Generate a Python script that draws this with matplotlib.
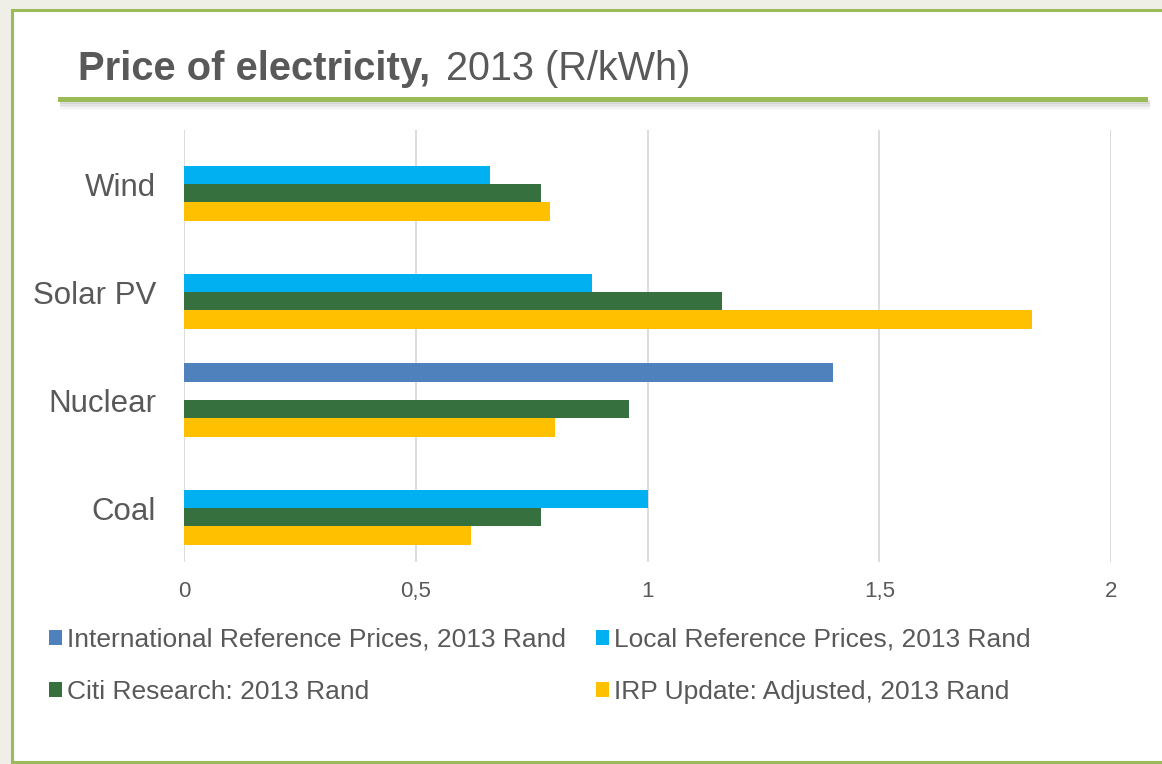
import numpy as np
import matplotlib
matplotlib.use("Agg")
import matplotlib.pyplot as plt
from matplotlib.patches import Rectangle

plt.rcParams['font.family'] = ['Liberation Sans', 'DejaVu Sans']

# Data (R/kWh, 2013)
categories = ["Coal", "Nuclear", "Solar PV", "Wind"]
intl_prices = [np.nan, 1.40, np.nan, np.nan]
local_prices = [1.00, np.nan, 0.88, 0.66]
citi_prices = [0.77, 0.96, 1.16, 0.77]
irp_prices = [0.62, 0.80, 1.83, 0.79]
series_names = [
    "International Reference Prices, 2013 Rand",
    "Local Reference Prices, 2013 Rand",
    "Citi Research: 2013 Rand",
    "IRP Update: Adjusted, 2013 Rand",
]
x_ticks = [0, 0.5, 1, 1.5, 2]
x_tick_labels = ["0", "0,5", "1", "1,5", "2"]

colors = ["#4F81BD", "#00B0F0", "#36703F", "#FFC000"]
text_color = "#595959"
accent = "#9BBB59"

W, H = 1162, 764
fig = plt.figure(figsize=(W / 100, H / 100), dpi=100)
fig.patch.set_facecolor("#EFEFE7")

# white panel with green frame (open to the right)
panel = Rectangle((12 / W, 2 / H), 1.2, 752 / H, transform=fig.transFigure,
                  facecolor="white", edgecolor=accent, linewidth=2.2, zorder=-5)
fig.patches.append(panel)

# title
fig.text(78 / W, 1 - 80 / H, "Price of electricity,", fontsize=28.8, fontweight="bold",
         color=text_color, ha="left", va="baseline")
fig.text(446 / W, 1 - 80 / H, "2013 (R/kWh)", fontsize=28.5,
         color=text_color, ha="left", va="baseline")

# underline with soft shadow
for i, a in enumerate([0.16, 0.12, 0.08, 0.05, 0.03]):
    fig.patches.append(Rectangle((60 / W, 1 - (104 + i * 1.6) / H), 1090 / W, 4 / H,
                                 transform=fig.transFigure, facecolor="#7f7f7f",
                                 edgecolor="none", alpha=a, zorder=-4))
fig.patches.append(Rectangle((58 / W, 1 - 102 / H), 1090 / W, 5 / H,
                             transform=fig.transFigure, facecolor=accent,
                             edgecolor="none", zorder=-3))

ax = fig.add_axes([184 / W, 1 - 562 / H, (1111 - 184) / W, (562 - 130) / H])
ax.set_facecolor("none")

y = np.arange(len(categories))
h = 0.171
offsets = [1.5 * h, 0.5 * h, -0.5 * h, -1.5 * h]
all_series = [intl_prices, local_prices, citi_prices, irp_prices]
bars = []
for vals, off, col, name in zip(all_series, offsets, colors, series_names):
    b = ax.barh(y + off, vals, height=h, color=col, label=name, zorder=3)
    bars.append(b)

ax.set_xlim(0, 2)
ax.set_ylim(-0.5, len(categories) - 0.5)
ax.set_xticks(x_ticks)
ax.set_xticklabels(x_tick_labels)
ax.set_yticks(y)
ax.set_yticklabels(categories)
ax.tick_params(axis="x", length=0, pad=14, labelsize=16, labelcolor=text_color)
ax.tick_params(axis="y", length=0, pad=20, labelsize=22.5, labelcolor=text_color)
for s in ax.spines.values():
    s.set_visible(False)
ax.grid(axis="x", color="#D9D9D9", linewidth=1.3, zorder=0)
ax.set_axisbelow(True)

order = [0, 2, 1, 3]
leg = fig.legend([bars[i] for i in order], [series_names[i] for i in order],
                 ncol=2, loc="upper left", bbox_to_anchor=(49 / W, 1 - 628 / H),
                 frameon=False, fontsize=19, handlelength=0.5, handleheight=0.5,
                 handletextpad=0.2, columnspacing=1.1, labelspacing=1.05,
                 borderpad=0, borderaxespad=0)
for t in leg.get_texts():
    t.set_color(text_color)

fig.savefig("out.png", dpi=100, facecolor=fig.get_facecolor())
